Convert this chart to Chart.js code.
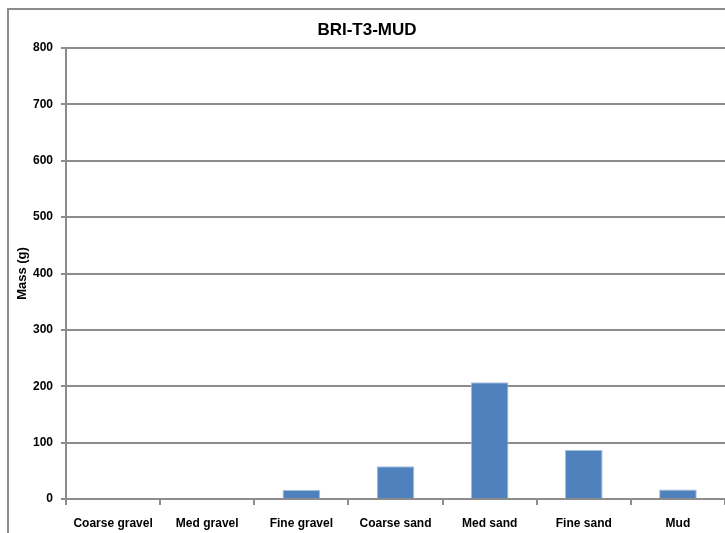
<!DOCTYPE html>
<html>
<head>
<meta charset="utf-8">
<script src="https://cdn.jsdelivr.net/npm/chart.js@4.4.1/dist/chart.umd.min.js"></script>
<style>
  html, body { margin: 0; padding: 0; background: #fff; overflow: hidden; width: 725px; height: 533px; }
  #wrap { position: absolute; left: 7px; top: 8px; width: 730px; height: 540px; border: 2px solid #8c8c8c; background: #fff; }
  #c { display: block; }
</style>
</head>
<body>
<div id="wrap"><canvas id="c" width="730" height="540" style="width:730px;height:540px"></canvas></div>
<script>
const chartTitle = "BRI-T3-MUD";
const categories = ["Coarse gravel", "Med gravel", "Fine gravel", "Coarse sand", "Med sand", "Fine sand", "Mud"];
const massValues = [0, 0, 16, 58, 207, 87, 17];
const yAxisLabel = "Mass (g)";
const yMin = 0, yMax = 800, yStep = 100;

const FONT = "'Liberation Sans', Arial, sans-serif";
const GRID = "#8c8c8c";
const TXT = "#000";

new Chart(document.getElementById('c'), {
  type: 'bar',
  data: {
    labels: categories,
    datasets: [{
      label: 'Mass',
      data: massValues,
      backgroundColor: '#4f81bd',
      borderColor: '#a7bfde',
      borderWidth: 1,
      categoryPercentage: 1.0,
      barPercentage: 0.4
    }]
  },
  options: {
    responsive: false,
    animation: false,
    devicePixelRatio: 1,
    layout: { padding: { left: 0, right: 14, top: 0, bottom: 0 } },
    plugins: {
      legend: { display: false },
      tooltip: { enabled: false },
      title: {
        display: true,
        text: chartTitle,
        color: TXT,
        font: { family: FONT, size: 17, weight: 'bold' },
        padding: { top: 10, bottom: 7.6 }
      }
    },
    scales: {
      x: {
        afterFit: s => { s.height = 540 - 489; },
        grid: { display: true, drawOnChartArea: false, drawTicks: true, tickLength: 6, color: GRID, lineWidth: 2, offset: true },
        border: { display: true, color: GRID, width: 2 },
        ticks: { color: TXT, font: { family: FONT, size: 12, weight: 'bold' }, padding: 11, maxRotation: 0, autoSkip: false }
      },
      y: {
        min: yMin, max: yMax,
        afterFit: s => { s.width = 57; },
        grid: { color: GRID, lineWidth: 2, drawTicks: true, tickLength: 5, tickColor: GRID },
        border: { display: true, color: GRID, width: 2 },
        ticks: { stepSize: yStep, color: TXT, font: { family: FONT, size: 12, weight: 'bold' }, padding: 8 },
        title: { display: true, text: yAxisLabel, color: TXT, font: { family: FONT, size: 13, weight: 'bold' }, padding: { top: 6, bottom: 0 } }
      }
    }
  }
});
</script>
</body>
</html>
